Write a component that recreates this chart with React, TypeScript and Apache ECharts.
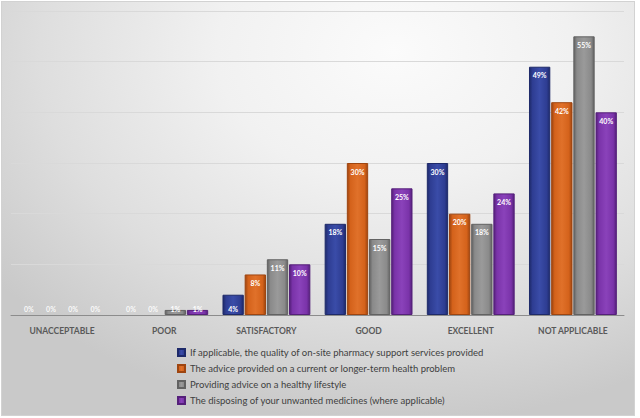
import React, { useEffect, useRef } from "react";
import * as echarts from "echarts";

const categories = ["UNACCEPTABLE", "POOR", "SATISFACTORY", "GOOD", "EXCELLENT", "NOT APPLICABLE"];
const seriesNames = [
  "If applicable, the quality of on-site pharmacy support services provided",
  "The advice provided on a current or longer-term health problem",
  "Providing advice on a healthy lifestyle",
  "The disposing of your unwanted medicines (where applicable)",
];
const qualityValues = [0, 0, 4, 18, 30, 49];
const adviceValues = [0, 0, 8, 30, 20, 42];
const lifestyleValues = [0, 1, 11, 15, 18, 55];
const disposingValues = [0, 1, 10, 25, 24, 40];
const yTicks = [0, 10, 20, 30, 40, 50, 60];

const baseColors = ["#2E3D92", "#D4621B", "#8A8A8A", "#7A33A9"];
const edgeColors = ["#1E2A6A", "#9E4510", "#626262", "#55207A"];
const lightColors = ["#3A4CA8", "#E0712A", "#9A9A9A", "#8A42BA"];

export default function App() {
  const ref = useRef<HTMLDivElement>(null);
  useEffect(() => {
    if (!ref.current) return;
    const chart = echarts.init(ref.current, undefined, { renderer: "svg" });
    const allValues = [qualityValues, adviceValues, lifestyleValues, disposingValues];
    const series = allValues.map((vals, i) => ({
      name: seriesNames[i],
      type: "bar",
      barGap: "4%",
      barCategoryGap: "14%",
      data: vals.map((v) => ({
        value: v,
        itemStyle: v === 0 ? { borderWidth: 0, color: "rgba(0,0,0,0)" } : undefined,
        label: {
          position: v <= 4 ? "insideBottom" : "insideTop",
          distance: v <= 4 ? 3 : 5,
          color: v === 0 ? "rgba(255,255,255,0.9)" : "#ffffff",
        },
      })),
      itemStyle: {
        color: new echarts.graphic.LinearGradient(0, 0, 1, 0, [
          { offset: 0, color: edgeColors[i] },
          { offset: 0.15, color: baseColors[i] },
          { offset: 0.5, color: lightColors[i] },
          { offset: 0.85, color: baseColors[i] },
          { offset: 1, color: edgeColors[i] },
        ]),
        borderColor: edgeColors[i],
        borderWidth: 1,
      },
      label: {
        show: true,
        formatter: "{c}%",
        color: "#ffffff",
        fontSize: 7,
        fontWeight: "bold",
        fontFamily: "Lato, 'Open Sans', sans-serif",
      },
    }));
    chart.setOption({
      animation: false,
      backgroundColor: "transparent",
      color: baseColors,
      grid: { left: 11, right: 16, top: 11, bottom: 103, containLabel: false },
      xAxis: {
        type: "category",
        data: categories,
        axisLine: { lineStyle: { color: "#8c8c8c", width: 1 } },
        axisTick: { show: false },
        axisLabel: {
          color: "#595959",
          fontSize: 8.5,
          fontWeight: "bold",
          fontFamily: "Lato, 'Open Sans', sans-serif",
          margin: 11,
        },
      },
      yAxis: {
        type: "value",
        min: yTicks[0],
        max: yTicks[yTicks.length - 1],
        interval: yTicks[1] - yTicks[0],
        axisLabel: { show: false },
        axisLine: { show: false },
        axisTick: { show: false },
        splitLine: { lineStyle: { color: "#d9d9d9", width: 1 } },
      },
      legend: {
        orient: "vertical",
        left: 172,
        top: 342,
        itemWidth: 7,
        itemHeight: 7,
        itemGap: 5,
        icon: "rect",
        textStyle: {
          color: "#404040",
          fontSize: 9.5,
          lineHeight: 11,
          fontFamily: "Lato, 'Open Sans', sans-serif",
        },
        data: seriesNames,
      },
      series,
    });
    return () => chart.dispose();
  }, []);
  return (
    <div style={{ position: "absolute", left: 0, top: 0, width: 640, height: 418, background: "#ffffff" }}>
      <div
        style={{
          position: "absolute",
          left: 1,
          top: 1,
          width: 632,
          height: 413,
          border: "1px solid #d2d2d2",
          background: "radial-gradient(ellipse 80% 90% at 62% 12%, #fbfbfb 0%, #f1f1f1 35%, #dedede 70%, #c9c9c9 100%)",
        }}
      />
      <div ref={ref} style={{ position: "absolute", left: 0, top: 0, width: 640, height: 418 }} />
    </div>
  );
}
